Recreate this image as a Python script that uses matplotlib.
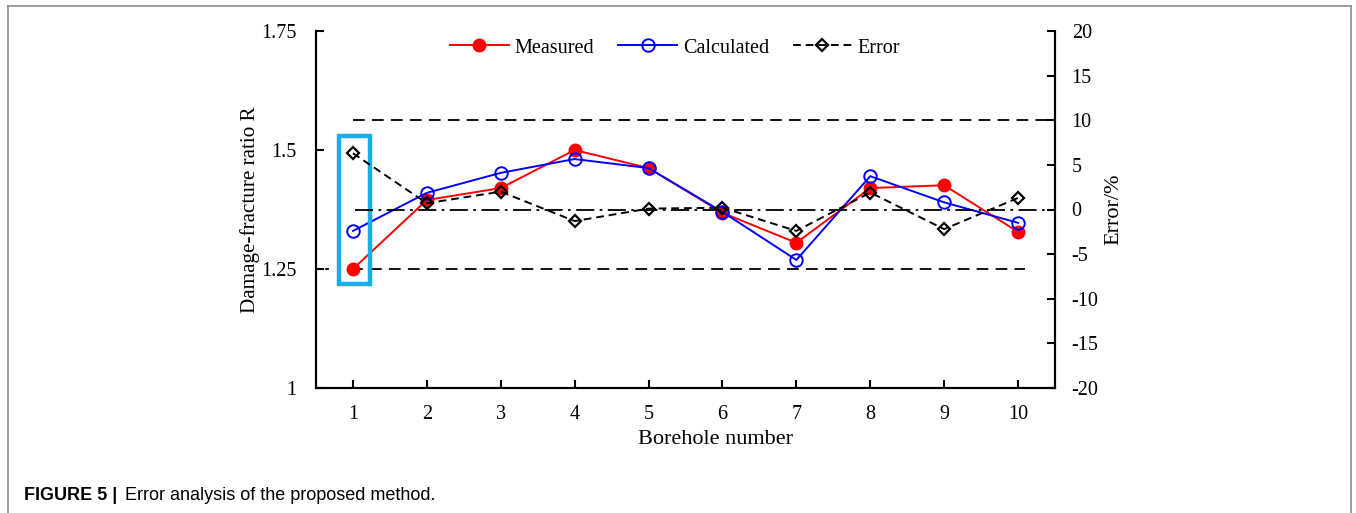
import matplotlib
matplotlib.use("Agg")
import matplotlib.pyplot as plt
from matplotlib.patches import Rectangle
from matplotlib.lines import Line2D

plt.rcParams['font.family'] = ['Liberation Serif', 'DejaVu Serif']
plt.rcParams['axes.unicode_minus'] = False

boreholes = [1, 2, 3, 4, 5, 6, 7, 8, 9, 10]
measured = [1.25, 1.395, 1.42, 1.50, 1.462, 1.368, 1.305, 1.42, 1.426, 1.328]
calculated = [1.33, 1.41, 1.452, 1.481, 1.462, 1.37, 1.269, 1.445, 1.39, 1.347]
error = [6.3, 0.7, 2.0, -1.3, 0.1, 0.2, -2.4, 1.9, -2.2, 1.3]
left_ticks = [1, 1.25, 1.5, 1.75]
left_labels = ['1', '1.25', '1.5', '1.75']
right_ticks = [-20, -15, -10, -5, 0, 5, 10, 15, 20]

fig = plt.figure(figsize=(13.56, 5.13), dpi=100)
W, H = 1356, 513
ax = fig.add_axes([316 / W, 1 - 388 / H, (1055 - 316) / W, (388 - 31) / H])
ax2 = ax.twinx()

# figure frame
for xs, ys in [([8 / W, 8 / W], [0, 1 - 6 / H]), ([8 / W, 1351 / W], [1 - 6 / H, 1 - 6 / H]),
               ([1351 / W, 1351 / W], [1 - 6 / H, 0])]:
    fig.add_artist(Line2D(xs, ys, transform=fig.transFigure, color='#8c8c8c', lw=1.2))

ax.set_xlim(0.5, 10.5)
ax.set_ylim(1, 1.75)
ax2.set_ylim(-20, 20)

# reference lines
ax.plot([0.63, 0.66], [1.25, 1.25], color='black', lw=1.3, zorder=1)
ax.plot([0.97, 10.1], [1.25, 1.25], color='black', ls=(0, (6.5, 4)), lw=1.3, zorder=1)
ax2.plot([1.0, 10.5], [10, 10], color='black', ls=(0, (6.5, 4)), lw=1.3, zorder=1)
ax2.plot([1.03, 10.5], [0, 0], color='black', ls=(0, (10, 3, 1.5, 3)), lw=1.3, zorder=1)

l1, = ax.plot(boreholes, measured, color='red', lw=1.4, marker='o', ms=9,
              mfc='red', mec='red', zorder=3, label='Measured')
l2, = ax.plot(boreholes, calculated, color='#0000ff', lw=1.4, marker='o', ms=9,
              mfc='none', mec='#0000ff', mew=1.4, zorder=4, label='Calculated')
l3, = ax2.plot(boreholes, error, color='black', lw=1.4, ls=(0, (4, 2.5)), marker='D', ms=6.5,
               mfc='none', mec='black', mew=1.6, zorder=5, label='Error')

# highlight box
ax.add_patch(Rectangle((0.81, 1.218), 0.42, 0.311, fill=False, ec='#1aaee8', lw=3.2, zorder=6))

ax.set_xticks(boreholes)
ax.set_yticks(left_ticks)
ax.set_yticklabels(left_labels)
ax2.set_yticks(right_ticks)
ax2.set_yticklabels([str(t) for t in right_ticks])

for a in (ax, ax2):
    a.spines['top'].set_visible(False)
    for s in a.spines.values():
        s.set_linewidth(1.5)
ax.tick_params(axis='both', direction='in', length=6, width=1.5, labelsize=14.5)
ax.tick_params(axis='x', pad=12)
ax.tick_params(axis='y', pad=14)
ax2.tick_params(axis='y', direction='in', length=6, width=1.5, labelsize=14.5, pad=12)

ax.set_xlabel('Borehole number', fontsize=16)
ax.xaxis.set_label_coords((715 - 316) / 739, (388 - 430) / 357)
ax.set_ylabel('Damage-fracture ratio R', fontsize=15.2)
ax.yaxis.set_label_coords((260 - 316) / 739, 0.5)
ax2.set_ylabel('Error/%', fontsize=16, labelpad=4)

ax.legend(handles=[l1, l2, l3], loc='upper center', bbox_to_anchor=(0.486, 1.03), ncol=3,
          frameon=False, fontsize=14.5, handlelength=2.9, columnspacing=1.2, handletextpad=0.3)

fig.text(24 / W, 1 - 495 / H, 'FIGURE 5 |', fontsize=13, fontweight='bold',
         family='Liberation Sans', va='center', ha='left')
fig.text(125 / W, 1 - 495 / H, 'Error analysis of the proposed method.', fontsize=13,
         family='Liberation Sans', va='center', ha='left')

fig.savefig('out.png', dpi=100)
